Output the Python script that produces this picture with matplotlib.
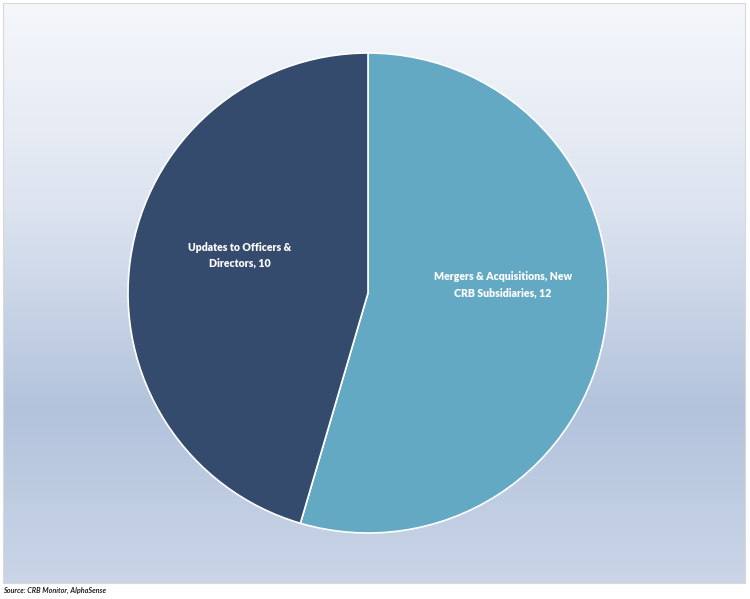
import numpy as np
import matplotlib
matplotlib.use("Agg")
import matplotlib.pyplot as plt
from matplotlib.colors import LinearSegmentedColormap

plt.rcParams['font.family'] = ['Lato', 'DejaVu Sans']

# data
labels = ['Mergers & Acquisitions, New\nCRB Subsidiaries, 12', 'Updates to Officers &\nDirectors, 10']
values = [12, 10]
colors = ['#63A9C4', '#344B6E']
source = 'Source: CRB Monitor, AlphaSense'

fig = plt.figure(figsize=(7.5, 5.99), dpi=100)

# gradient background panel
bg = fig.add_axes([3 / 750, 1 - 583 / 599, 742 / 750, 580 / 599])
cmap = LinearSegmentedColormap.from_list(
    'bg', [(0, '#F5F7FB'), (0.35, '#DDE4F0'), (0.70, '#B3C3DC'), (1, '#CAD5E7')])
grad = np.linspace(0, 1, 256).reshape(-1, 1)
bg.imshow(grad, aspect='auto', cmap=cmap, extent=[0, 1, 1, 0])
bg.set_xticks([])
bg.set_yticks([])
for s in bg.spines.values():
    s.set_color('#D9D9D9')
    s.set_linewidth(0.8)

# pie
r = 240
ax = fig.add_axes([(368 - r) / 750, 1 - (293 + r) / 599, 2 * r / 750, 2 * r / 599])
ax.patch.set_alpha(0)
ax.pie(values, colors=colors, startangle=90, counterclock=False, radius=1,
       wedgeprops=dict(edgecolor='white', linewidth=1.2))
ax.set_xlim(-1, 1)
ax.set_ylim(-1, 1)
ax.set_aspect('auto')
ax.axis('off')

ax.text(0.5625, 0.035, labels[0], ha='center', va='center', color='white',
        fontsize=7.6, fontweight='heavy', linespacing=1.55)
ax.text(-0.533, 0.158, labels[1], ha='center', va='center', color='white',
        fontsize=7.6, fontweight='heavy', linespacing=1.55)

fig.text(3 / 750, 1 - 590 / 599, source, ha='left', va='center',
         fontsize=5.2, fontstyle='italic', fontweight='bold', color='#222222')

fig.savefig('out.png', dpi=100)
